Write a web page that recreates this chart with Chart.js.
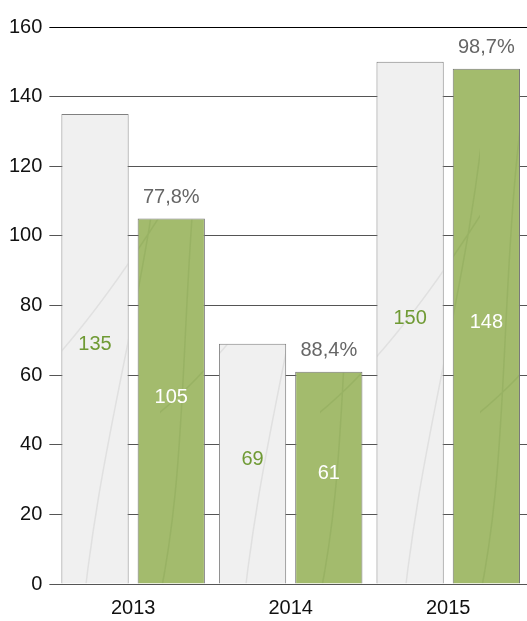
<!DOCTYPE html>
<html>
<head>
<meta charset="utf-8">
<script src="https://cdn.jsdelivr.net/npm/chart.js@4"></script>
<style>
  html, body { margin: 0; padding: 0; background: #fff; }
  #wrap { width: 527px; height: 621px; }
</style>
</head>
<body>
<div id="wrap"><canvas id="chart" width="527" height="621"></canvas></div>
<script>
// data
const years = ['2013', '2014', '2015'];
const planned = [135, 69, 150];
const actual = [105, 61, 148];
const shares = ['77,8%', '88,4%', '98,7%'];
const yTicks = [0, 20, 40, 60, 80, 100, 120, 140, 160];

const FONT = '"Liberation Sans", Arial, sans-serif';

// crumpled-paper look: base colour with a few faint creases
function paper(base, crease) {
  const c = document.createElement('canvas');
  c.width = 160; c.height = 640;
  const g = c.getContext('2d');
  g.fillStyle = base;
  g.fillRect(0, 0, c.width, c.height);
  g.strokeStyle = crease;
  g.lineWidth = 1.5;
  g.beginPath();
  g.moveTo(-10, 640); g.bezierCurveTo(40, 450, 10, 250, 60, 0);
  g.moveTo(80, 640); g.bezierCurveTo(100, 420, 150, 300, 170, 60);
  g.moveTo(-10, 420); g.quadraticCurveTo(70, 360, 170, 200);
  g.stroke();
  return g.createPattern(c, 'repeat-x');
}

// value labels in the middle of the bars + percent above the green ones
const labelsPlugin = {
  id: 'barLabels',
  afterDatasetsDraw(chart) {
    const ctx = chart.ctx;
    ctx.save();
    ctx.font = '20px ' + FONT;
    ctx.textAlign = 'center';
    ctx.textBaseline = 'middle';
    chart.data.datasets.forEach((ds, i) => {
      const meta = chart.getDatasetMeta(i);
      meta.data.forEach((bar, j) => {
        const mid = (bar.y + bar.base) / 2 - 4;
        ctx.fillStyle = i === 0 ? '#6f9a34' : '#ffffff';
        ctx.fillText(String(ds.data[j]), bar.x, mid);
        if (i === 1) {
          ctx.fillStyle = '#666666';
          ctx.fillText(shares[j], bar.x, bar.y - 21);
        }
      });
    });
    ctx.restore();
  }
};

new Chart(document.getElementById('chart'), {
  type: 'bar',
  data: {
    labels: years,
    datasets: [
      {
        label: 'plan',
        data: planned,
        backgroundColor: paper('#f0f0f0', 'rgba(190,190,190,0.3)'),
        borderColor: '#808080',
        borderWidth: 1,
        categoryPercentage: 0.968,
        barPercentage: 0.882
      },
      {
        label: 'fact',
        data: actual,
        backgroundColor: paper('#a3bb6d', 'rgba(130,160,80,0.3)'),
        borderColor: '#777777',
        borderWidth: 1,
        categoryPercentage: 0.968,
        barPercentage: 0.882
      }
    ]
  },
  options: {
    responsive: false,
    animation: false,
    layout: { padding: { top: 27, right: 0, left: 2, bottom: 0 } },
    plugins: {
      legend: { display: false },
      tooltip: { enabled: false }
    },
    scales: {
      x: {
        grid: { display: false },
        border: { display: false },
        afterFit(scale) { scale.height = 37; },
        ticks: { color: '#111', font: { family: FONT, size: 20 }, padding: 4 }
      },
      y: {
        min: 0,
        max: 160,
        afterBuildTicks(scale) {
          scale.ticks = yTicks.map(v => ({ value: v }));
        },
        border: { display: false },
        grid: {
          color: c => c.tick && c.tick.value === 160 ? '#000' : '#555',
          lineWidth: 1,
          tickLength: 5,
          drawTicks: true
        },
        ticks: { color: '#111', font: { family: FONT, size: 20 }, padding: 7 }
      }
    }
  },
  plugins: [labelsPlugin]
});
</script>
</body>
</html>
